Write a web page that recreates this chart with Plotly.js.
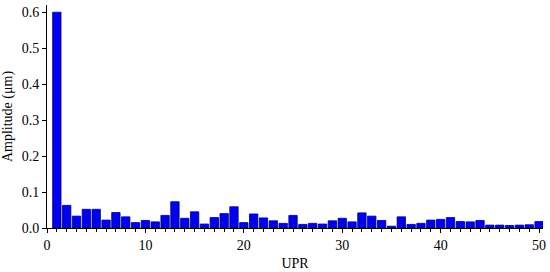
<!DOCTYPE html>
<html><head><meta charset="utf-8">
<script src="https://cdn.plot.ly/plotly-3.0.1.min.js"></script>
<style>html,body{margin:0;padding:0;background:#fff}</style>
</head><body>
<div id="chart" style="width:550px;height:272px"></div>
<script>
const upr = Array.from({length: 50}, (_, i) => i + 1);
const amplitude = [0.600, 0.063, 0.033, 0.052, 0.052, 0.022, 0.043, 0.031, 0.015, 0.021,
                   0.017, 0.035, 0.073, 0.027, 0.045, 0.011, 0.029, 0.040, 0.059, 0.015,
                   0.039, 0.028, 0.020, 0.013, 0.035, 0.010, 0.013, 0.011, 0.020, 0.027,
                   0.017, 0.042, 0.033, 0.021, 0.005, 0.031, 0.010, 0.013, 0.022, 0.024,
                   0.029, 0.018, 0.017, 0.021, 0.008, 0.008, 0.007, 0.008, 0.009, 0.018];
const xTickVals = [0, 10, 20, 30, 40, 50];
const yTickVals = [0, 0.1, 0.2, 0.3, 0.4, 0.5, 0.6];
const yTickText = ['0.0', '0.1', '0.2', '0.3', '0.4', '0.5', '0.6'];

const font = {family: 'Liberation Serif, Times New Roman, serif', size: 14, color: '#000'};
Plotly.newPlot('chart', [{
  type: 'bar', x: upr, y: amplitude, width: 0.85,
  marker: {color: '#0000f5', line: {color: '#000060', width: 0.8}}
}], {
  width: 550, height: 272,
  margin: {l: 47, r: 7, t: 5, b: 44},
  paper_bgcolor: '#fff', plot_bgcolor: '#fff',
  font: font,
  showlegend: false,
  xaxis: {
    range: [0, 50.4], tickvals: xTickVals, ticks: 'outside', ticklen: 4, tickcolor: '#000',
    showline: true, linecolor: '#000', linewidth: 1, showgrid: false, zeroline: false,
    minor: {dtick: 1, ticks: 'outside', ticklen: 2.5, tickcolor: '#000', showgrid: false},
    title: {text: 'UPR', font: font, standoff: 6}
  },
  yaxis: {
    range: [0, 0.62], tickvals: yTickVals, ticktext: yTickText, ticks: 'outside', ticklen: 4, tickcolor: '#000',
    showline: true, linecolor: '#000', linewidth: 1, showgrid: false, zeroline: false,
    title: {text: 'Amplitude (μm)', font: font, standoff: 6}
  }
}, {displayModeBar: false, staticPlot: true});
</script>
</body></html>
